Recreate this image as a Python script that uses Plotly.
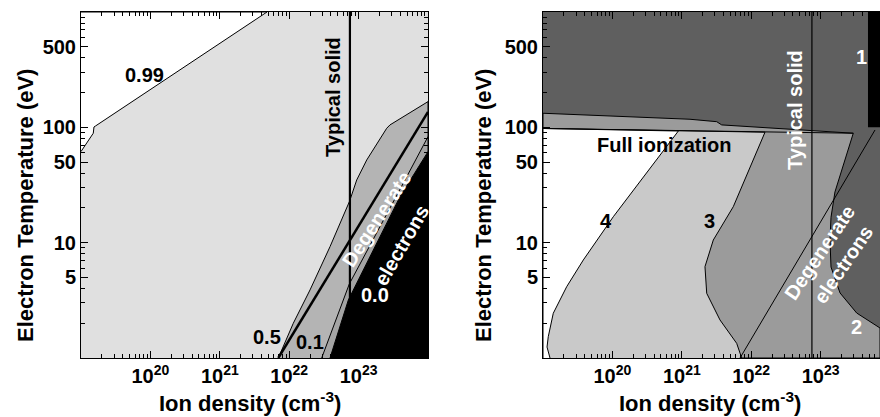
import numpy as np
import plotly.graph_objects as go

# ---------------- data (log10 ion density [cm^-3], log10 electron temperature [eV]) -------------
N_RANGE_L = [19.0, 24.0]
N_RANGE_R = [19.0, 23.856]
T_RANGE = [0.0, 3.0]

# Left panel: ionisation-fraction contours
c99_n = [19.0, 19.177, 19.187, 19.21, 21.68]
c99_T = [1.790, 1.949, 2.003, 2.012, 3.0]
upper_n = [21.843, 22.059, 22.300, 22.588, 22.870, 22.973, 23.117, 23.405, 23.452, 24.0]
upper_T = [0.0, 0.301, 0.590, 0.965, 1.360, 1.544, 1.717, 1.992, 2.021, 2.223]
half_n = [21.843, 24.0]
half_T = [0.0, 2.134]
tenth_n = [22.468, 22.866, 23.669, 24.0]
tenth_T = [0.0, 0.642, 1.544, 1.919]
zero_n = [22.588, 22.852, 23.597, 24.0]
zero_T = [0.0, 0.503, 1.399, 1.789]
solid_n = 22.875

# Right panel: charge-state regions
band_upper_n = [19.0, 21.118, 21.503, 21.575, 23.471]
band_upper_T = [2.122, 2.070, 2.049, 2.021, 1.949]
band_lower_n = [19.0, 23.471]
band_lower_T = [1.990, 1.949]
dark_edge_n = [23.471, 23.207, 23.150, 23.135, 23.150, 23.280, 23.520, 23.856]
dark_edge_T = [1.949, 1.440, 1.220, 1.023, 0.789, 0.564, 0.390, 0.260]
curve3_n = [22.199, 21.742, 21.454, 21.334, 21.359, 21.550, 21.791, 21.863]
curve3_T = [1.958, 1.312, 1.023, 0.792, 0.561, 0.330, 0.127, 0.0]
curve4_n = [20.950, 20.013, 19.581, 19.341, 19.148, 19.076, 19.058, 19.101]
curve4_T = [1.968, 1.225, 0.850, 0.618, 0.388, 0.185, 0.095, 0.0]
degen_n = [21.839, 23.784]
degen_T = [0.0, 1.977]
bar1_n = [23.683, 23.856]
bar1_T = [2.0, 3.0]

X_TICKS = [20, 21, 22, 23]
Y_TICKS = [5, 10, 50, 100, 500]

# ---------------- styling ----------------
FONT = "Liberation Sans"
C_LIGHT_L = "#e0e0e0"
C_MID_L = "#b4b4b4"
C_STRIP_L = "#a4a4a4"
C_DARK_R = "#5f5f5f"
C_MID_R = "#9b9b9b"
C_LIGHT_R = "#c9c9c9"


def P(a):
    return list(10.0 ** np.asarray(a, dtype=float))


fig = go.Figure()


def poly(xs, ys, fill, xa, ya, lw=1.0):
    fig.add_trace(go.Scatter(x=P(xs), y=P(ys), mode="lines", fill="toself",
                             fillcolor=fill, line=dict(color="black", width=lw),
                             xaxis=xa, yaxis=ya, hoverinfo="skip", showlegend=False))


def line(xs, ys, xa, ya, lw=1.0, color="black"):
    fig.add_trace(go.Scatter(x=P(xs), y=P(ys), mode="lines",
                             line=dict(color=color, width=lw),
                             xaxis=xa, yaxis=ya, hoverinfo="skip", showlegend=False))


# ---- left panel ----
poly(c99_n + [N_RANGE_L[0]], c99_T + [T_RANGE[1]], "white", "x", "y")
poly(upper_n + [N_RANGE_L[1]], upper_T + [T_RANGE[0]], C_MID_L, "x", "y")
poly(tenth_n + [N_RANGE_L[1]], tenth_T + [T_RANGE[0]], C_STRIP_L, "x", "y")
poly(zero_n + [N_RANGE_L[1]], zero_T + [T_RANGE[0]], "black", "x", "y")
line(half_n, half_T, "x", "y", lw=2.5)
line([solid_n, solid_n], T_RANGE, "x", "y", lw=2.2)

# ---- right panel ----
poly([N_RANGE_R[0]] + band_upper_n + dark_edge_n + [N_RANGE_R[1], N_RANGE_R[0]],
     [T_RANGE[0]] + band_upper_T + dark_edge_T + [T_RANGE[0], T_RANGE[0]], C_MID_R, "x2", "y2")
poly([N_RANGE_R[0], band_lower_n[0]] + curve3_n,
     [T_RANGE[0], band_lower_T[0]] + curve3_T, C_LIGHT_R, "x2", "y2")
poly([N_RANGE_R[0], band_lower_n[0]] + curve4_n,
     [T_RANGE[0], band_lower_T[0]] + curve4_T, "white", "x2", "y2")
line(band_lower_n, band_lower_T, "x2", "y2")
poly([bar1_n[0], bar1_n[1], bar1_n[1], bar1_n[0]],
     [bar1_T[0], bar1_T[0], bar1_T[1], bar1_T[1]], "black", "x2", "y2", lw=0)
line(degen_n, degen_T, "x2", "y2")
line([solid_n, solid_n], T_RANGE, "x2", "y2", lw=1.2)

# ---- axes ----
W, H = 880, 417
MT, MB = 12, 59
PH = H - MT - MB
x_minor = [m * 10.0 ** d for d in range(19, 24) for m in range(2, 10)]
y_minor = [m * 10.0 ** d for d in range(0, 3) for m in [2, 3, 4, 6, 7, 8, 9]]
tickfont = dict(family=FONT, size=20, color="black", weight="bold")


def xaxis(domain, rng, anchor, mirror):
    return dict(type="log", domain=domain, range=rng, anchor=anchor,
                tickvals=[10.0 ** e for e in X_TICKS],
                ticktext=[f"10<sup>{e}</sup>" for e in X_TICKS],
                ticks="inside", ticklen=7, tickwidth=1, tickcolor="black",
                showline=True, linecolor="black", linewidth=1, mirror=mirror,
                showgrid=False, zeroline=False, tickfont=tickfont,
                minor=dict(tickvals=x_minor, ticks="inside", ticklen=4,
                           tickcolor="black", showgrid=False))


def yaxis(anchor, mirror):
    return dict(type="log", domain=[0, 1], range=T_RANGE, anchor=anchor,
                tickvals=Y_TICKS, ticktext=[str(v) for v in Y_TICKS],
                ticks="inside", ticklen=7, tickwidth=1, tickcolor="black",
                showline=True, linecolor="black", linewidth=1, mirror=mirror,
                showgrid=False, zeroline=False, tickfont=tickfont,
                minor=dict(tickvals=y_minor, ticks="inside", ticklen=4,
                           tickcolor="black", showgrid=False))


fig.update_layout(
    width=W, height=H,
    margin=dict(l=0, r=0, t=MT, b=MB),
    paper_bgcolor="white", plot_bgcolor="white",
    xaxis=xaxis([81 / W, 428 / W], N_RANGE_L, "y", "allticks"),
    yaxis=yaxis("x", "allticks"),
    xaxis2=xaxis([543 / W, 1.0], N_RANGE_R, "y2", "allticks"),
    yaxis2=yaxis("x2", False),
    showlegend=False,
    shapes=[
        dict(type="rect", xref="x domain", yref="y domain", x0=0, x1=1, y0=0, y1=1,
             fillcolor=C_LIGHT_L, line=dict(width=0), layer="below"),
        dict(type="rect", xref="x2 domain", yref="y2 domain", x0=0, x1=1, y0=0, y1=1,
             fillcolor=C_DARK_R, line=dict(width=0), layer="below"),
    ],
)


def ann(text, x, y, xref="x", yref="y", color="black", angle=0, size=20):
    fig.add_annotation(text=text, x=x, y=y, xref=xref, yref=yref, showarrow=False,
                       textangle=angle, xanchor="center", yanchor="middle",
                       font=dict(family=FONT, size=size, color=color, weight="bold"))


# left panel labels
ann("0.99", 19.922, 2.454)
ann("0.5", 21.676, 0.185)
ann("0.1", 22.300, 0.141)
ann("0.0", 23.236, 0.546, color="white")
ann("Typical solid", 22.631, 2.264, angle=-90)
ann("Degenerate", 23.261, 1.206, color="white", angle=-57)
ann("electrons", 23.621, 0.980, color="white", angle=-60)

# right panel labels
ann("Typical solid", 22.631, 2.151, "x2", "y2", color="white", angle=-90)
ann("1", 23.592, 2.611, "x2", "y2", color="white")
ann("2", 23.520, 0.269, "x2", "y2", color="white")
ann("3", 21.392, 1.188, "x2", "y2")
ann("4", 19.903, 1.188, "x2", "y2")
ann("Full ionization", 20.744, 1.847, "x2", "y2")
ann("Degenerate", 22.991, 0.919, "x2", "y2", color="white", angle=-56)
ann("electrons", 23.323, 0.807, "x2", "y2", color="white", angle=-56)


# axis titles (paper coordinates; paper y spans the plotting area only)
def py2paper(py):
    return (H - MB - py) / PH


for cx in (25, 483):
    ann("Electron Temperature (eV)", cx / W, py2paper(206), "paper", "paper", angle=-90, size=22)
for cx in (249.5, 709.5):
    ann("Ion density (cm<sup>-3</sup>)", cx / W, py2paper(402), "paper", "paper", size=22)

fig.write_html("out.html")
